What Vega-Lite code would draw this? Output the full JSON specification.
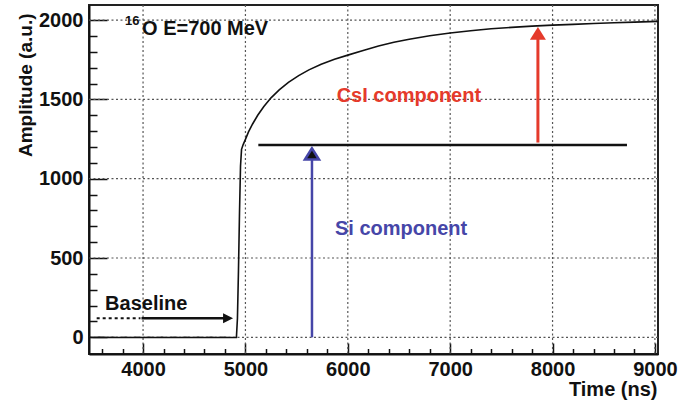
{
  "$schema": "https://vega.github.io/schema/vega-lite/v6.json",
  "width": 569,
  "height": 349,
  "autosize": {"type": "none"},
  "padding": {"left": 89, "top": 5, "right": 34, "bottom": 49},
  "background": "white",
  "config": {
    "font": "Liberation Sans",
    "view": {"stroke": "#222", "strokeWidth": 2},
    "text": {"font": "Liberation Sans", "fontWeight": "bold"}
  },
  "layer": [
    {
      "data": {"values": [{"gx": 4000}, {"gx": 5000}, {"gx": 6000}, {"gx": 7000}, {"gx": 8000}, {"gx": 9000}]},
      "mark": {"type": "rule", "color": "#555", "strokeWidth": 1.2, "strokeDash": [2, 2.5]},
      "encoding": {
        "x": {"field": "gx", "type": "quantitative", "scale": {"domain": [3472, 9030], "nice": false, "zero": false}}
      }
    },
    {
      "data": {"values": [{"gy": 0}, {"gy": 500}, {"gy": 1000}, {"gy": 1500}, {"gy": 2000}]},
      "mark": {"type": "rule", "color": "#555", "strokeWidth": 1.2, "strokeDash": [2, 2.5]},
      "encoding": {
        "y": {"field": "gy", "type": "quantitative", "scale": {"domain": [-105, 2095], "nice": false, "zero": false}}
      }
    },
    {
      "data": {"values": [
        {"t": 3472, "amp": 1}, {"t": 3520, "amp": -1}, {"t": 3580, "amp": 1}, {"t": 3640, "amp": -1},
        {"t": 3700, "amp": 1}, {"t": 3760, "amp": -1}, {"t": 3820, "amp": 1}, {"t": 3880, "amp": -1},
        {"t": 3940, "amp": 1}, {"t": 4000, "amp": -1}, {"t": 4060, "amp": 1}, {"t": 4120, "amp": -1},
        {"t": 4180, "amp": 1}, {"t": 4240, "amp": -1}, {"t": 4300, "amp": 1}, {"t": 4360, "amp": -1},
        {"t": 4420, "amp": 1}, {"t": 4480, "amp": -1}, {"t": 4540, "amp": 1}, {"t": 4600, "amp": -1},
        {"t": 4660, "amp": 1}, {"t": 4720, "amp": -1}, {"t": 4780, "amp": 1}, {"t": 4840, "amp": -1},
        {"t": 4912, "amp": 0},
        {"t": 4922, "amp": 120}, {"t": 4932, "amp": 420}, {"t": 4942, "amp": 780}, {"t": 4952, "amp": 1080},
        {"t": 4962, "amp": 1185}, {"t": 4978, "amp": 1215}, {"t": 5000, "amp": 1248}, {"t": 5030, "amp": 1295},
        {"t": 5070, "amp": 1345}, {"t": 5120, "amp": 1400}, {"t": 5180, "amp": 1455}, {"t": 5250, "amp": 1510},
        {"t": 5330, "amp": 1560}, {"t": 5420, "amp": 1607}, {"t": 5520, "amp": 1650}, {"t": 5620, "amp": 1686},
        {"t": 5740, "amp": 1722}, {"t": 5870, "amp": 1753}, {"t": 6000, "amp": 1779}, {"t": 6150, "amp": 1808},
        {"t": 6300, "amp": 1836}, {"t": 6450, "amp": 1860}, {"t": 6600, "amp": 1879}, {"t": 6800, "amp": 1901},
        {"t": 7000, "amp": 1919}, {"t": 7200, "amp": 1933}, {"t": 7400, "amp": 1945}, {"t": 7600, "amp": 1954},
        {"t": 7800, "amp": 1962}, {"t": 8000, "amp": 1968}, {"t": 8200, "amp": 1973}, {"t": 8400, "amp": 1978},
        {"t": 8600, "amp": 1983}, {"t": 8800, "amp": 1987}, {"t": 9030, "amp": 1992}
      ]},
      "mark": {"type": "line", "color": "#111", "strokeWidth": 1.6},
      "encoding": {
        "x": {
          "field": "t", "type": "quantitative",
          "scale": {"domain": [3472, 9030], "nice": false, "zero": false},
          "axis": {
            "orient": "bottom",
            "values": [3600, 3800, 4000, 4200, 4400, 4600, 4800, 5000, 5200, 5400, 5600, 5800, 6000, 6200, 6400, 6600, 6800, 7000, 7200, 7400, 7600, 7800, 8000, 8200, 8400, 8600, 8800, 9000],
            "tickCount": 100,
            "format": "d",
            "labelExpr": "datum.value % 1000 === 0 ? datum.label : ''",
            "title": "Time (ns)", "grid": false,
            "tickSize": {"condition": {"test": "datum.value % 1000 === 0", "value": -11}, "value": -5.5},
            "tickWidth": 1.5, "tickColor": "#111",
            "domainColor": "#111", "domainWidth": 2,
            "labelFont": "Liberation Sans", "labelFontSize": 20, "labelFontWeight": "bold", "labelColor": "#111",
            "labelBaseline": "alphabetic", "labelPadding": 32, "labelFlush": false, "labelOverlap": false,
            "titleFont": "Liberation Sans", "titleFontSize": 20, "titleFontWeight": "bold", "titleColor": "#111",
            "titleAnchor": "end", "titleAlign": "right", "titleBaseline": "alphabetic", "titleX": 568, "titleY": 41
          }
        },
        "y": {
          "field": "amp", "type": "quantitative",
          "scale": {"domain": [-105, 2095], "nice": false, "zero": false},
          "axis": {
            "orient": "left",
            "values": [0, 100, 200, 300, 400, 500, 600, 700, 800, 900, 1000, 1100, 1200, 1300, 1400, 1500, 1600, 1700, 1800, 1900, 2000],
            "tickCount": 100,
            "format": "d",
            "labelExpr": "datum.value % 500 === 0 ? datum.label : ''",
            "title": "Amplitude (a.u.)", "grid": false,
            "tickSize": {"condition": {"test": "datum.value % 500 === 0", "value": -18}, "value": -8},
            "tickWidth": 1.5, "tickColor": "#111",
            "domainColor": "#111", "domainWidth": 2,
            "labelFont": "Liberation Sans", "labelFontSize": 20, "labelFontWeight": "bold", "labelColor": "#111",
            "labelPadding": 24, "labelFlush": false, "labelOverlap": false,
            "titleFont": "Liberation Sans", "titleFontSize": 19, "titleFontWeight": "bold", "titleColor": "#111",
            "titleAngle": -90, "titleAnchor": "end", "titleAlign": "right", "titleBaseline": "middle",
            "titleX": -64, "titleY": 8
          }
        }
      }
    },
    {
      "data": {"values": [{"x1": 5126, "x2": 8727, "y": 1212}]},
      "mark": {"type": "rule", "color": "#111", "strokeWidth": 2.5},
      "encoding": {
        "x": {"field": "x1", "type": "quantitative"},
        "x2": {"field": "x2"},
        "y": {"field": "y", "type": "quantitative"}
      }
    },
    {
      "data": {"values": [{"x": 5650, "y1": 0, "y2": 1130}]},
      "mark": {"type": "rule", "color": "#4646a8", "strokeWidth": 2.5},
      "encoding": {
        "x": {"field": "x", "type": "quantitative"},
        "y": {"field": "y1", "type": "quantitative"},
        "y2": {"field": "y2"}
      }
    },
    {
      "data": {"values": [{"x": 5650, "y": 1192}]},
      "mark": {"type": "point", "shape": "M0,0L-1,1.6L1,1.6Z", "size": 200, "filled": true, "fill": "#111", "stroke": "#4646a8", "strokeWidth": 2.5, "opacity": 1},
      "encoding": {
        "x": {"field": "x", "type": "quantitative"},
        "y": {"field": "y", "type": "quantitative"}
      }
    },
    {
      "data": {"values": [{"x": 7857, "y1": 1228, "y2": 1900}]},
      "mark": {"type": "rule", "color": "#e53a2b", "strokeWidth": 3},
      "encoding": {
        "x": {"field": "x", "type": "quantitative"},
        "y": {"field": "y1", "type": "quantitative"},
        "y2": {"field": "y2"}
      }
    },
    {
      "data": {"values": [{"x": 7857, "y": 1957}]},
      "mark": {"type": "point", "shape": "M0,0L-1,1.6L1,1.6Z", "size": 256, "filled": true, "color": "#e53a2b", "opacity": 1},
      "encoding": {
        "x": {"field": "x", "type": "quantitative"},
        "y": {"field": "y", "type": "quantitative"}
      }
    },
    {
      "data": {"values": [{"x1": 3547, "x2": 3975, "y": 120}]},
      "mark": {"type": "rule", "color": "#111", "strokeWidth": 2, "strokeDash": [3, 3]},
      "encoding": {
        "x": {"field": "x1", "type": "quantitative"},
        "x2": {"field": "x2"},
        "y": {"field": "y", "type": "quantitative"}
      }
    },
    {
      "data": {"values": [{"x1": 3985, "x2": 4800, "y": 120}]},
      "mark": {"type": "rule", "color": "#111", "strokeWidth": 2.5},
      "encoding": {
        "x": {"field": "x1", "type": "quantitative"},
        "x2": {"field": "x2"},
        "y": {"field": "y", "type": "quantitative"}
      }
    },
    {
      "data": {"values": [{"x": 4879, "y": 120}]},
      "mark": {"type": "point", "shape": "M0,0L-2,-1L-2,1Z", "size": 100, "filled": true, "color": "#111", "opacity": 1},
      "encoding": {
        "x": {"field": "x", "type": "quantitative"},
        "y": {"field": "y", "type": "quantitative"}
      }
    },
    {
      "data": {"values": [
        {"label": "CsI component", "x": 5891, "y": 1483, "kind": "csi"},
        {"label": "Si component", "x": 5875, "y": 645, "kind": "si"},
        {"label": "Baseline", "x": 3629, "y": 172, "kind": "plain"},
        {"label": "O E=700 MeV", "x": 3990, "y": 1906, "kind": "plain"}
      ]},
      "mark": {"type": "text", "align": "left", "baseline": "alphabetic", "fontSize": 20, "fontWeight": "bold", "font": "Liberation Sans"},
      "encoding": {
        "x": {"field": "x", "type": "quantitative"},
        "y": {"field": "y", "type": "quantitative"},
        "text": {"field": "label"},
        "color": {
          "field": "kind", "type": "nominal", "legend": null,
          "scale": {"domain": ["csi", "si", "plain"], "range": ["#e53a2b", "#4646a8", "#111111"]}
        }
      }
    },
    {
      "data": {"values": [{"label": "16", "x": 3824, "y": 1967}]},
      "mark": {"type": "text", "align": "left", "baseline": "alphabetic", "fontSize": 13, "fontWeight": "bold", "font": "Liberation Sans", "color": "#111"},
      "encoding": {
        "x": {"field": "x", "type": "quantitative"},
        "y": {"field": "y", "type": "quantitative"},
        "text": {"field": "label"}
      }
    }
  ]
}
